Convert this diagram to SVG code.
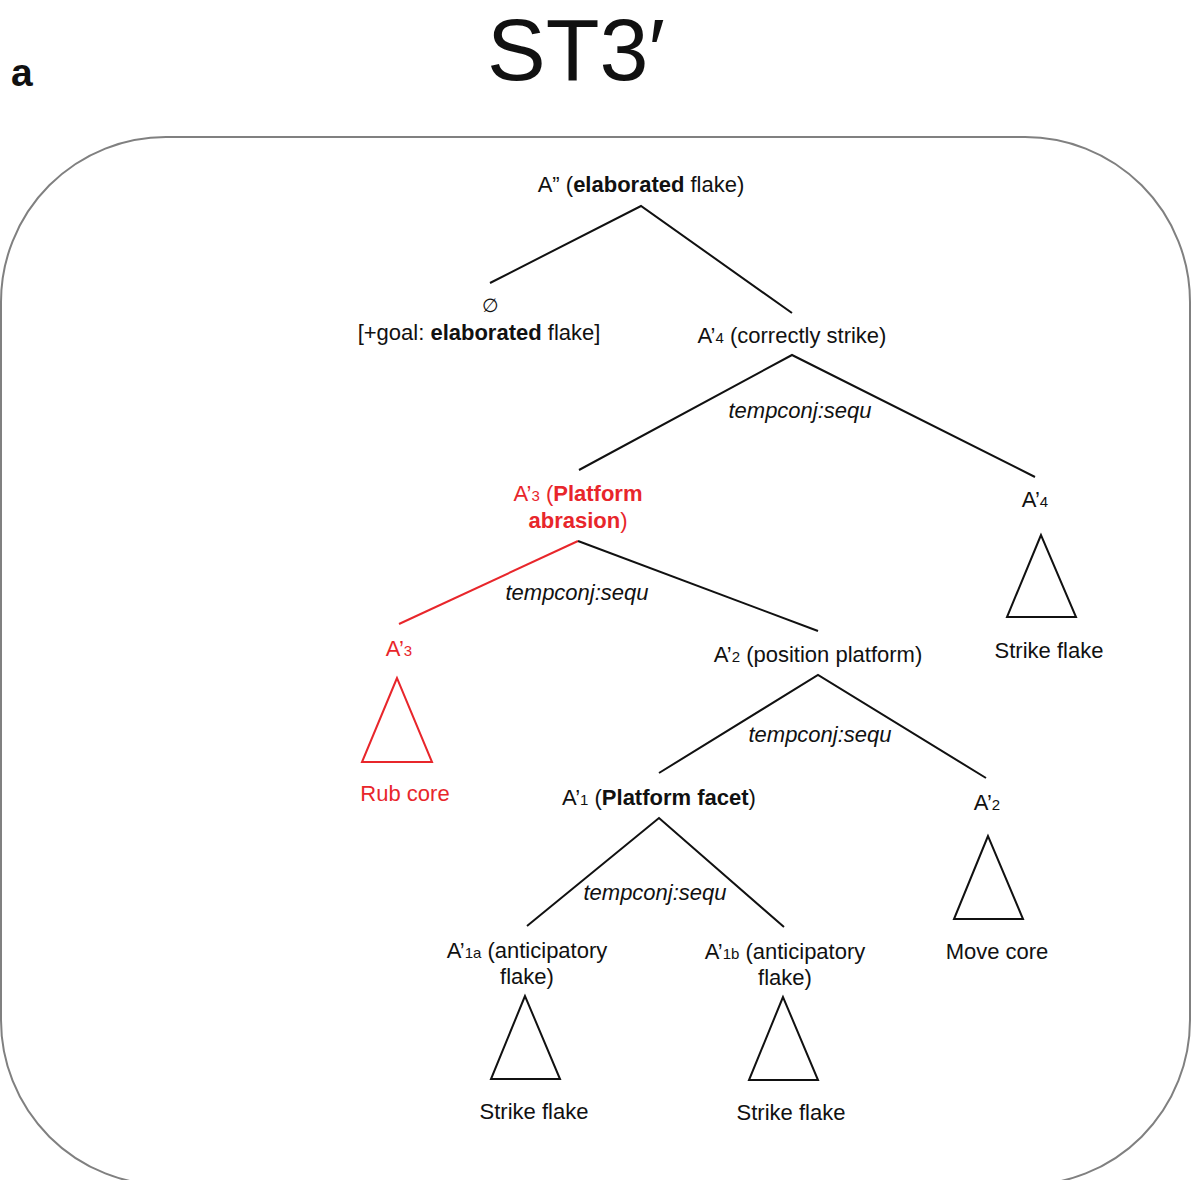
<svg xmlns="http://www.w3.org/2000/svg" width="1192" height="1180" viewBox="0 0 1192 1180">
<style>
text{font-family:"Liberation Sans",Arial,sans-serif;font-size:22px;fill:#111;text-anchor:middle}
.red{fill:#e8262b}
.b{font-weight:bold}
.i{font-style:italic}
.s{font-size:15px}
.e{stroke:#111;stroke-width:2;fill:none}
.er{stroke:#e8262b;stroke-width:2;fill:none}
.tri{stroke:#111;stroke-width:2;fill:#fff;stroke-linejoin:miter}
.trir{stroke:#e8262b;stroke-width:2;fill:#fff}
</style>
<rect x="0" y="0" width="1192" height="1180" fill="#fff"/>
<text x="11" y="86" class="b" style="font-size:39px;text-anchor:start">a</text>
<text x="576" y="80" style="font-size:88px">ST3′</text>
<rect x="1" y="137" width="1189" height="1048" rx="165" ry="165" fill="none" stroke="#808080" stroke-width="2"/>

<g id="connectors">
<polyline class="e" points="490,283 641,206 792,313"/>
<polyline class="e" points="579,470 792,355 1035,477"/>
<line class="er" x1="578" y1="541" x2="399" y2="624"/>
<line class="e" x1="578" y1="541" x2="818" y2="631"/>
<polyline class="e" points="659,773 818,675 986,778"/>
<polyline class="e" points="527,926 659,818 784,927"/>
</g>

<g id="root"><text x="641" y="192">A” (<tspan class="b">elaborated</tspan> flake)</text></g>
<g id="null"><text x="490" y="312" style="font-size:19px">∅</text>
<text x="479" y="340">[+goal: <tspan class="b">elaborated</tspan> flake]</text></g>
<g id="a4"><text x="792" y="343">A’<tspan class="s">4</tspan> (correctly strike)</text></g>
<g id="lbl1"><text x="800" y="418" class="i">tempconj:sequ</text></g>
<g id="a3"><text x="578" y="501" class="red">A’<tspan class="s">3</tspan> (<tspan class="b">Platform</tspan></text>
<text x="578" y="528" class="red"><tspan class="b">abrasion</tspan>)</text></g>
<g id="a4leaf"><text x="1035" y="507">A’<tspan class="s">4</tspan></text>
<polygon class="tri" points="1041,535 1007,617 1076,617"/>
<text x="1049" y="658">Strike flake</text></g>
<g id="lbl2"><text x="577" y="600" class="i">tempconj:sequ</text></g>
<g id="a3leaf"><text x="399" y="656" class="red">A’<tspan class="s">3</tspan></text>
<polygon class="trir" points="397,678 362,762 432,762"/>
<text x="405" y="801" class="red">Rub core</text></g>
<g id="a2"><text x="818" y="662">A’<tspan class="s">2</tspan> (position platform)</text></g>
<g id="lbl3"><text x="820" y="742" class="i">tempconj:sequ</text></g>
<g id="a1"><text x="659" y="805">A’<tspan class="s">1</tspan> (<tspan class="b">Platform facet</tspan>)</text></g>
<g id="a2leaf"><text x="987" y="810">A’<tspan class="s">2</tspan></text>
<polygon class="tri" points="988,836 954,919 1023,919"/>
<text x="997" y="959">Move core</text></g>
<g id="lbl4"><text x="655" y="900" class="i">tempconj:sequ</text></g>
<g id="a1a"><text x="527" y="958">A’<tspan class="s">1a</tspan> (anticipatory</text>
<text x="527" y="984">flake)</text>
<polygon class="tri" points="525,996 491,1079 560,1079"/>
<text x="534" y="1119">Strike flake</text></g>
<g id="a1b"><text x="785" y="959">A’<tspan class="s">1b</tspan> (anticipatory</text>
<text x="785" y="985">flake)</text>
<polygon class="tri" points="783,997 749,1080 818,1080"/>
<text x="791" y="1120">Strike flake</text></g>
</svg>
